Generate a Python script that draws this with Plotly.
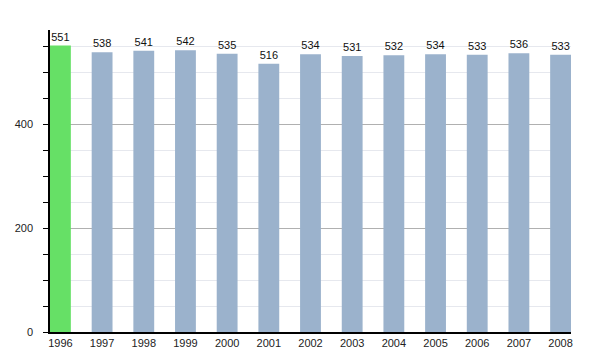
import plotly.graph_objects as go

years = ["1996", "1997", "1998", "1999", "2000", "2001", "2002",
         "2003", "2004", "2005", "2006", "2007", "2008"]
population = [551, 538, 541, 542, 535, 516, 534, 531, 532, 534, 533, 536, 533]
highlight_year = "1996"

colors = ["#66e066" if y == highlight_year else "#9bb2cc" for y in years]

fig = go.Figure(
    go.Bar(
        x=list(range(len(years))),
        y=population,
        marker=dict(color=colors, line=dict(width=0)),
        text=[str(v) for v in population],
        textposition="outside",
        textfont=dict(family="Liberation Sans, Arial, sans-serif", size=11, color="#111"),
        cliponaxis=False,
        width=0.5,
    )
)

fig.update_layout(
    width=600,
    height=350,
    margin=dict(l=50, r=29, t=30, b=18, autoexpand=False),
    paper_bgcolor="white",
    plot_bgcolor="white",
    showlegend=False,
    font=dict(family="Liberation Sans, Arial, sans-serif", size=11, color="#222"),
)

fig.update_xaxes(
    range=[-0.25, len(years) - 0.75],
    tickmode="array",
    tickvals=list(range(len(years))),
    ticktext=years,
    showline=True,
    linecolor="black",
    linewidth=1.5,
    ticks="",
    showgrid=False,
    zeroline=False,
    automargin=False,
    ticklabelstandoff=0,
)

fig.update_yaxes(
    range=[0, 580.8],
    dtick=200,
    tick0=0,
    showline=True,
    linecolor="black",
    linewidth=1.5,
    ticks="outside",
    ticklen=5,
    tickcolor="black",
    showgrid=True,
    gridcolor="#b0b0b0",
    gridwidth=1,
    zeroline=False,
    automargin=False,
    ticklabelstandoff=8,
    minor=dict(
        dtick=50,
        ticks="outside",
        ticklen=5,
        tickcolor="black",
        showgrid=True,
        gridcolor="#e6e8ee",
        gridwidth=1,
    ),
)

fig.write_html("out.html")
